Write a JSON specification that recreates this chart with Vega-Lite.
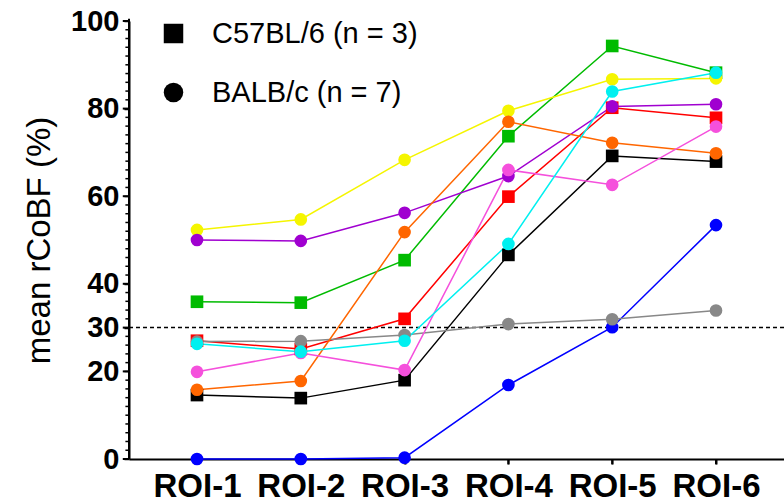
{
  "$schema": "https://vega.github.io/schema/vega-lite/v6.json",
  "width": 655,
  "height": 438,
  "autosize": {"type": "none"},
  "padding": {"left": 129, "top": 21, "right": 0, "bottom": 45},
  "background": "white",
  "config": {
    "view": {"stroke": null},
    "font": "Liberation Sans"
  },
  "datasets": {
    "threshold": [{"value": 30}],
    "yticks": [
      {"value": 0}, {"value": 2}, {"value": 4}, {"value": 6}, {"value": 8}, {"value": 10}, {"value": 12}, {"value": 14}, {"value": 16}, {"value": 18},
      {"value": 20}, {"value": 22}, {"value": 24}, {"value": 26}, {"value": 28}, {"value": 30}, {"value": 32}, {"value": 34}, {"value": 36}, {"value": 38},
      {"value": 40}, {"value": 42}, {"value": 44}, {"value": 46}, {"value": 48}, {"value": 50}, {"value": 52}, {"value": 54}, {"value": 56}, {"value": 58},
      {"value": 60}, {"value": 62}, {"value": 64}, {"value": 66}, {"value": 68}, {"value": 70}, {"value": 72}, {"value": 74}, {"value": 76}, {"value": 78},
      {"value": 80}, {"value": 82}, {"value": 84}, {"value": 86}, {"value": 88}, {"value": 90}, {"value": 92}, {"value": 94}, {"value": 96}, {"value": 98},
      {"value": 100}
    ],
    "rcobf": [
      {"animal": "black", "strain": "C57BL/6", "roi": "ROI-1", "value": 14.6},
      {"animal": "black", "strain": "C57BL/6", "roi": "ROI-2", "value": 13.9},
      {"animal": "black", "strain": "C57BL/6", "roi": "ROI-3", "value": 18.0},
      {"animal": "black", "strain": "C57BL/6", "roi": "ROI-4", "value": 46.6},
      {"animal": "black", "strain": "C57BL/6", "roi": "ROI-5", "value": 69.2},
      {"animal": "black", "strain": "C57BL/6", "roi": "ROI-6", "value": 67.9},
      {"animal": "red", "strain": "C57BL/6", "roi": "ROI-1", "value": 27.0},
      {"animal": "red", "strain": "C57BL/6", "roi": "ROI-2", "value": 25.1},
      {"animal": "red", "strain": "C57BL/6", "roi": "ROI-3", "value": 32.0},
      {"animal": "red", "strain": "C57BL/6", "roi": "ROI-4", "value": 59.9},
      {"animal": "red", "strain": "C57BL/6", "roi": "ROI-5", "value": 80.2},
      {"animal": "red", "strain": "C57BL/6", "roi": "ROI-6", "value": 77.9},
      {"animal": "green", "strain": "C57BL/6", "roi": "ROI-1", "value": 35.9},
      {"animal": "green", "strain": "C57BL/6", "roi": "ROI-2", "value": 35.7},
      {"animal": "green", "strain": "C57BL/6", "roi": "ROI-3", "value": 45.4},
      {"animal": "green", "strain": "C57BL/6", "roi": "ROI-4", "value": 73.7},
      {"animal": "green", "strain": "C57BL/6", "roi": "ROI-5", "value": 94.3},
      {"animal": "green", "strain": "C57BL/6", "roi": "ROI-6", "value": 88.2},
      {"animal": "blue", "strain": "BALB/c", "roi": "ROI-1", "value": 0},
      {"animal": "blue", "strain": "BALB/c", "roi": "ROI-2", "value": 0},
      {"animal": "blue", "strain": "BALB/c", "roi": "ROI-3", "value": 0.3},
      {"animal": "blue", "strain": "BALB/c", "roi": "ROI-4", "value": 16.9},
      {"animal": "blue", "strain": "BALB/c", "roi": "ROI-5", "value": 30.1},
      {"animal": "blue", "strain": "BALB/c", "roi": "ROI-6", "value": 53.4},
      {"animal": "gray", "strain": "BALB/c", "roi": "ROI-1", "value": 26.8},
      {"animal": "gray", "strain": "BALB/c", "roi": "ROI-2", "value": 26.9},
      {"animal": "gray", "strain": "BALB/c", "roi": "ROI-3", "value": 28.3},
      {"animal": "gray", "strain": "BALB/c", "roi": "ROI-4", "value": 30.8},
      {"animal": "gray", "strain": "BALB/c", "roi": "ROI-5", "value": 31.9},
      {"animal": "gray", "strain": "BALB/c", "roi": "ROI-6", "value": 33.9},
      {"animal": "yellow", "strain": "BALB/c", "roi": "ROI-1", "value": 52.3},
      {"animal": "yellow", "strain": "BALB/c", "roi": "ROI-2", "value": 54.7},
      {"animal": "yellow", "strain": "BALB/c", "roi": "ROI-3", "value": 68.3},
      {"animal": "yellow", "strain": "BALB/c", "roi": "ROI-4", "value": 79.5},
      {"animal": "yellow", "strain": "BALB/c", "roi": "ROI-5", "value": 86.7},
      {"animal": "yellow", "strain": "BALB/c", "roi": "ROI-6", "value": 86.9},
      {"animal": "purple", "strain": "BALB/c", "roi": "ROI-1", "value": 50.0},
      {"animal": "purple", "strain": "BALB/c", "roi": "ROI-2", "value": 49.8},
      {"animal": "purple", "strain": "BALB/c", "roi": "ROI-3", "value": 56.2},
      {"animal": "purple", "strain": "BALB/c", "roi": "ROI-4", "value": 64.6},
      {"animal": "purple", "strain": "BALB/c", "roi": "ROI-5", "value": 80.5},
      {"animal": "purple", "strain": "BALB/c", "roi": "ROI-6", "value": 81.0},
      {"animal": "orange", "strain": "BALB/c", "roi": "ROI-1", "value": 15.8},
      {"animal": "orange", "strain": "BALB/c", "roi": "ROI-2", "value": 17.8},
      {"animal": "orange", "strain": "BALB/c", "roi": "ROI-3", "value": 51.8},
      {"animal": "orange", "strain": "BALB/c", "roi": "ROI-4", "value": 77.0},
      {"animal": "orange", "strain": "BALB/c", "roi": "ROI-5", "value": 72.2},
      {"animal": "orange", "strain": "BALB/c", "roi": "ROI-6", "value": 69.8},
      {"animal": "pink", "strain": "BALB/c", "roi": "ROI-1", "value": 19.9},
      {"animal": "pink", "strain": "BALB/c", "roi": "ROI-2", "value": 24.2},
      {"animal": "pink", "strain": "BALB/c", "roi": "ROI-3", "value": 20.3},
      {"animal": "pink", "strain": "BALB/c", "roi": "ROI-4", "value": 66.0},
      {"animal": "pink", "strain": "BALB/c", "roi": "ROI-5", "value": 62.6},
      {"animal": "pink", "strain": "BALB/c", "roi": "ROI-6", "value": 75.9},
      {"animal": "cyan", "strain": "BALB/c", "roi": "ROI-1", "value": 26.3},
      {"animal": "cyan", "strain": "BALB/c", "roi": "ROI-2", "value": 24.5},
      {"animal": "cyan", "strain": "BALB/c", "roi": "ROI-3", "value": 27.0},
      {"animal": "cyan", "strain": "BALB/c", "roi": "ROI-4", "value": 49.1},
      {"animal": "cyan", "strain": "BALB/c", "roi": "ROI-5", "value": 83.9},
      {"animal": "cyan", "strain": "BALB/c", "roi": "ROI-6", "value": 88.2}
    ]
  },
  "data": {"name": "rcobf"},
  "encoding": {
    "y": {
      "field": "value", "type": "quantitative",
      "scale": {"domain": [0, 100], "nice": false},
      "axis": {
        "title": "mean rCoBF (%)",
        "grid": false,
        "domain": true, "ticks": true,
        "domainColor": "#000000", "domainWidth": 2,
        "tickColor": "#000000", "tickWidth": 1.5, "tickSize": 5,
        "labelColor": "#000000", "titleColor": "#000000",
        "titleFontSize": 33, "titleFontWeight": "normal", "titlePadding": 14,
        "values": [0, 20, 30, 40, 60, 80, 100],
        "labelFontSize": 29, "labelFontWeight": "bold", "labelPadding": 5,
        "labelOverlap": false
      }
    }
  },
  "resolve": {"scale": {"x": "independent"}},
  "layer": [
    {
      "data": {"name": "threshold"},
      "mark": {"type": "rule", "color": "black", "strokeWidth": 1.5, "strokeDash": [4, 3]},
      "encoding": {}
    },
    {
      "encoding": {
        "x": {
          "field": "roi", "type": "ordinal",
          "scale": {"type": "point", "padding": 0.655},
          "axis": {"title": null, "grid": false, "labelAngle": 0, "labelFontSize": 33, "labelFontWeight": "bold", "labelColor": "#000000", "domainColor": "#000000", "domainWidth": 2, "tickColor": "#000000", "tickWidth": 2, "tickSize": 5, "labelPadding": 6}
        }
      },
      "layer": [
        {
          "transform": [{"filter": "datum.animal == 'black'"}],
          "mark": {"type": "rule", "color": "black", "strokeWidth": 2},
          "encoding": {"y": {"datum": 0}, "y2": {"datum": -1.2}}
        },
        {
          "mark": {"type": "line", "strokeWidth": 1.5},
          "encoding": {
            "detail": {"field": "animal"},
            "color": {
              "field": "animal", "type": "nominal", "legend": null,
              "scale": {
                "domain": ["black", "red", "green", "blue", "gray", "yellow", "purple", "orange", "pink", "cyan"],
                "range": ["#000000", "#ff0000", "#00bb00", "#0000ff", "#888888", "#f5f500", "#a000d0", "#ff6600", "#f550dc", "#00f0f0"]
              }
            }
          }
        },
        {
          "mark": {"type": "point", "filled": true, "opacity": 1, "size": 160},
          "encoding": {
            "color": {"field": "animal", "type": "nominal", "legend": null},
            "shape": {
              "field": "strain", "type": "nominal",
              "scale": {"domain": ["C57BL/6", "BALB/c"], "range": ["square", "circle"]},
              "legend": {
                "title": null, "orient": "none", "legendX": 30, "legendY": -2,
                "padding": 0, "symbolSize": 380, "symbolFillColor": "black", "symbolStrokeColor": "black", "symbolStrokeWidth": 0, "symbolOpacity": 1,
                "labelFontSize": 29, "labelColor": "black", "labelOffset": 24, "rowPadding": 29, "labelLimit": 500,
                "labelExpr": "datum.label == 'C57BL/6' ? 'C57BL/6 (n = 3)' : 'BALB/c (n = 7)'"
              }
            }
          }
        }
      ]
    },
    {
      "encoding": {
        "x": {"datum": 0, "type": "quantitative", "scale": {"domain": [0, 1]}, "axis": null}
      },
      "layer": [
        {
          "data": {"name": "threshold"},
          "mark": {"type": "rule", "color": "black", "strokeWidth": 2},
          "encoding": {"y": {"datum": 0}, "y2": {"datum": 100.5}}
        },
        {
          "data": {"name": "yticks"},
          "transform": [{"filter": "indexof([0, 20, 30, 40, 60, 80, 100], datum.value) >= 0"}],
          "mark": {"type": "rule", "color": "black", "strokeWidth": 2},
          "encoding": {"x2": {"datum": -0.0095}}
        },
        {
          "data": {"name": "yticks"},
          "transform": [{"filter": "indexof([0, 20, 30, 40, 60, 80, 100], datum.value) < 0"}],
          "mark": {"type": "rule", "color": "black", "strokeWidth": 1.5},
          "encoding": {"x2": {"datum": -0.0055}}
        }
      ]
    }
  ]
}
